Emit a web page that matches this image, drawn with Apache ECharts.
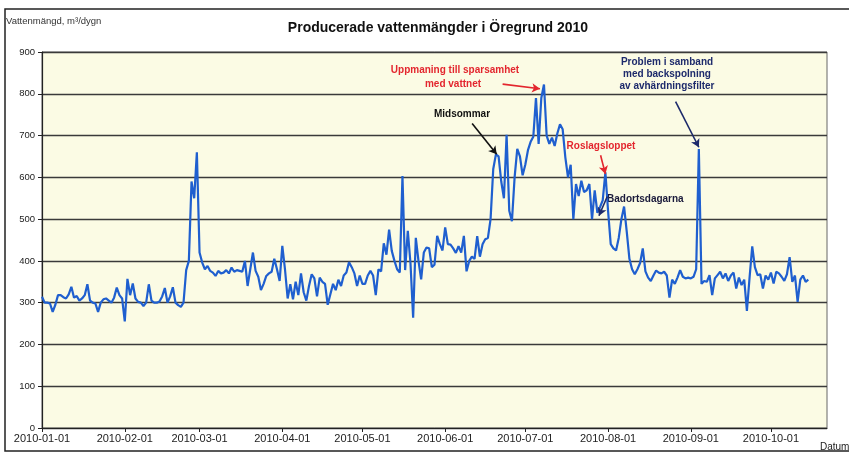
<!DOCTYPE html>
<html>
<head>
<meta charset="utf-8">
<title>Producerade vattenmängder i Öregrund 2010</title>
<script src="https://cdn.jsdelivr.net/npm/echarts@6/dist/echarts.min.js"></script>
<style>
  html, body { margin: 0; padding: 0; background: #ffffff; }
  #chart { width: 849px; height: 454px; }
</style>
</head>
<body>
<div id="chart"></div>
<script>
// first day of the daily series, one value per day
var startDate = '2010-01-01';
var axisEnd = '2010-10-22';

// daily production, m3/dygn
var janFeb = [314, 300, 300, 298, 278, 295, 318, 318, 313, 310,
  320, 338, 312, 316, 305, 310, 318, 344, 305, 300,
  298, 278, 300, 308, 310, 305, 300, 312, 336, 318,
  310, 255, 357, 318, 346, 310, 302, 300, 292, 300,
  344, 305, 300, 300, 303, 315, 335, 300, 315, 337,
  300, 294, 290, 300, 378, 400, 590, 550, 660, 420];
var marApr = [396, 380, 388, 376, 372, 364, 376, 370, 372, 378,
  370, 384, 374, 378, 376, 374, 400, 340, 380, 420,
  376, 362, 330, 345, 364, 370, 374, 405, 380, 352,
  436, 380, 310, 344, 308, 350, 318, 370, 325, 305,
  340, 368, 358, 315, 360, 350, 345, 295, 320, 345];
var mayJun = [330, 355, 340, 365, 372, 397, 385, 370, 340, 365,
  345, 345, 365, 376, 365, 318, 380, 375, 442, 415,
  475, 424, 400, 380, 372, 603, 378, 472, 395, 264,
  455, 400, 356, 420, 432, 430, 385, 391, 460, 440,
  425, 480, 440, 439, 430, 419, 435, 420, 460, 375,
  400, 410, 405, 459, 410, 440, 452, 455, 500, 620];
var julAug = [655, 650, 590, 550, 702, 520, 495, 600, 668, 650,
  605, 630, 665, 685, 697, 790, 680, 790, 822, 700,
  680, 695, 675, 705, 727, 715, 648, 600, 630, 500,
  584, 555, 592, 565, 569, 584, 500, 569, 515, 529,
  545, 612, 520, 440, 430, 425, 455, 500, 530, 470,
  405, 380, 368, 380, 395, 430, 375, 360, 352, 365];
var sepOct = [377, 372, 370, 374, 365, 312, 355, 345, 360, 378,
  362, 358, 360, 358, 362, 380, 668, 345, 352, 350,
  366, 318, 358, 366, 374, 358, 370, 352, 365, 372,
  334, 360, 342, 355, 280, 360, 435, 385, 366, 368,
  334, 365, 355, 372, 346, 374, 370, 362, 352, 368,
  409, 350, 365, 302, 355, 365, 350, 355];

var monthTicks = ['2010-01-01', '2010-02-01', '2010-03-01', '2010-04-01', '2010-05-01',
  '2010-06-01', '2010-07-01', '2010-08-01', '2010-09-01', '2010-10-01'];

var values = janFeb.concat(marApr, mayJun, julAug, sepOct);

// x axis runs in days since startDate
var DAY = 86400000;
function ts(s) { var p = s.split('-'); return Date.UTC(+p[0], +p[1] - 1, +p[2]); }
var t0 = ts(startDate);
function dayOf(s) { return Math.round((ts(s) - t0) / DAY); }
function pad(n) { return n < 10 ? '0' + n : '' + n; }
function fmt(d) {
  var dt = new Date(t0 + Math.round(d) * DAY);
  return dt.getUTCFullYear() + '-' + pad(dt.getUTCMonth() + 1) + '-' + pad(dt.getUTCDate());
}

var seriesData = values.map(function (v, i) { return [i, v]; });
var tickDays = monthTicks.map(dayOf);

function arrow(from, to, color) {
  return [
    { coord: from, lineStyle: { color: color, width: 1.6, type: 'solid' } },
    { coord: to }
  ];
}

var red = '#e3262e';
var navy = '#1d2a6b';

var chart = echarts.init(document.getElementById('chart'));
chart.setOption({
  animation: false,
  backgroundColor: '#ffffff',
  grid: {
    left: 42, right: 22, top: 52, bottom: 26,
    show: true,
    backgroundColor: '#fbfbe4',
    borderColor: '#666',
    borderWidth: 1
  },
  xAxis: {
    type: 'value',
    min: 0,
    max: dayOf(axisEnd),
    axisLine: { lineStyle: { color: '#222', width: 1.2 } },
    axisTick: { show: true, customValues: tickDays, length: 4, lineStyle: { color: '#222' } },
    axisLabel: {
      customValues: tickDays,
      formatter: function (v) { return fmt(v); },
      fontFamily: 'Liberation Sans Narrow, Arial, sans-serif',
      fontSize: 11, color: '#222', margin: 5
    },
    splitLine: { show: false }
  },
  yAxis: {
    type: 'value',
    min: 0, max: 900, interval: 100,
    axisLine: { show: true, lineStyle: { color: '#222', width: 1.2 } },
    axisTick: { show: true, length: 4, lineStyle: { color: '#222' } },
    axisLabel: { fontFamily: 'Arial, sans-serif', fontSize: 9.5, color: '#222', margin: 7 },
    splitLine: { show: true, lineStyle: { color: '#3a3a3a', width: 1.3 } }
  },
  series: [{
    name: 'Vattenmängd',
    type: 'line',
    data: seriesData,
    showSymbol: false,
    lineStyle: { color: '#1f5fcf', width: 2.2 },
    itemStyle: { color: '#1f5fcf' },
    markLine: {
      silent: true,
      symbol: ['none', 'arrow'],
      symbolSize: [7, 8],
      label: { show: false },
      data: [
        arrow([172.5, 823], [186.5, 812], red),
        arrow([161.1, 729], [170.3, 655], '#111'),
        arrow([237.3, 781], [246.0, 672], navy),
        arrow([209.2, 653], [211.0, 608], red),
        arrow([211.7, 554], [208.6, 508], navy)
      ]
    }
  }],
  graphic: [
    { type: 'rect', shape: { x: 5, y: 9, width: 900, height: 442 },
      style: { fill: 'none', stroke: '#222', lineWidth: 1.5 }, silent: true },
    { type: 'text', left: 6, top: 16,
      style: { text: 'Vattenmängd, m³/dygn', font: '9.5px Arial, sans-serif', fill: '#333' } },
    { type: 'text', x: 438, y: 28,
      style: { text: 'Producerade vattenmängder i Öregrund 2010', font: 'bold 14px Arial, sans-serif',
        fill: '#111', align: 'center', verticalAlign: 'middle' } },
    { type: 'text', x: 820, y: 447,
      style: { text: 'Datum', font: '10px Arial, sans-serif', fill: '#222', verticalAlign: 'middle' } },
    { type: 'text', x: 455, y: 70,
      style: { text: 'Uppmaning till sparsamhet', font: 'bold 10px Arial, sans-serif', fill: red,
        align: 'center', verticalAlign: 'middle' } },
    { type: 'text', x: 453, y: 84,
      style: { text: 'med vattnet', font: 'bold 10px Arial, sans-serif', fill: red,
        align: 'center', verticalAlign: 'middle' } },
    { type: 'text', x: 462, y: 114,
      style: { text: 'Midsommar', font: 'bold 10px Arial, sans-serif', fill: '#111',
        align: 'center', verticalAlign: 'middle' } },
    { type: 'text', x: 667, y: 62,
      style: { text: 'Problem i samband', font: 'bold 10px Arial, sans-serif', fill: navy,
        align: 'center', verticalAlign: 'middle' } },
    { type: 'text', x: 667, y: 74,
      style: { text: 'med backspolning', font: 'bold 10px Arial, sans-serif', fill: navy,
        align: 'center', verticalAlign: 'middle' } },
    { type: 'text', x: 667, y: 86,
      style: { text: 'av avhärdningsfilter', font: 'bold 10px Arial, sans-serif', fill: navy,
        align: 'center', verticalAlign: 'middle' } },
    { type: 'text', x: 601, y: 146,
      style: { text: 'Roslagsloppet', font: 'bold 10px Arial, sans-serif', fill: red,
        align: 'center', verticalAlign: 'middle' } },
    { type: 'text', x: 607, y: 199,
      style: { text: 'Badortsdagarna', font: 'bold 10px Arial, sans-serif', fill: '#1a1a3a',
        verticalAlign: 'middle' } }
  ]
});
</script>
</body>
</html>
